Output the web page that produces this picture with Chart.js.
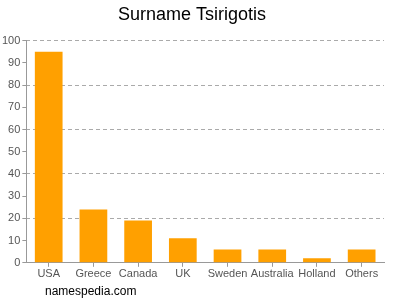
<!DOCTYPE html>
<html>
<head>
<meta charset="utf-8">
<script src="https://cdn.jsdelivr.net/npm/chart.js@4"></script>
<style>
  body { margin: 0; background: #fff; }
  #wrap { position: relative; width: 400px; height: 300px; }
  #footer { position: absolute; left: 45px; top: 284px; font: 12px "Liberation Sans", Arial, sans-serif; color: #000; }
</style>
</head>
<body>
<div id="wrap">
  <canvas id="chart" width="400" height="300"></canvas>
  <div id="footer">namespedia.com</div>
</div>
<script>
const countries = ["USA", "Greece", "Canada", "UK", "Sweden", "Australia", "Holland", "Others"];
const counts = [95, 24, 19, 11, 6, 6, 2, 6];
const yMax = 100;
const labelStep = 10;
const gridStep = 20;

var ctx = document.getElementById("chart").getContext("2d");
var myChart = new Chart(ctx, {
  type: "bar",
  data: {
    labels: countries,
    datasets: [
      {
        label: "Surname Tsirigotis",
        data: counts,
        backgroundColor: "#ffa000",
        borderWidth: 0,
        barPercentage: 0.62,
        categoryPercentage: 1,
      },
    ],
  },
  options: {
    responsive: false,
    animation: false,
    layout: { padding: { left: 0, right: 16, top: 0, bottom: 18 } },
    plugins: {
      legend: { display: false },
      tooltip: { enabled: false },
      title: {
        display: true,
        text: "Surname Tsirigotis",
        color: "#000",
        font: { family: "Liberation Sans", size: 18, weight: "normal" },
        padding: { top: 4, bottom: 15 },
      },
    },
    scales: {
      x: {
        grid: { drawOnChartArea: false, offset: false, tickLength: 4, tickColor: "#999" },
        border: { color: "#999" },
        ticks: {
          color: "#555",
          padding: 1,
          maxRotation: 0,
          autoSkip: false,
          font: { family: "Liberation Sans", size: 11 },
        },
      },
      // labels and tick marks every 10
      y: {
        min: 0,
        max: yMax,
        grid: { drawOnChartArea: false, tickColor: "#999", tickLength: 4 },
        border: { color: "#999" },
        ticks: { stepSize: labelStep, color: "#555", padding: 2, font: { family: "Liberation Sans", size: 11 } },
      },
      // dashed grid lines every 20, no labels
      y2: {
        position: "left",
        min: 0,
        max: yMax,
        grid: { color: "#aaa", drawTicks: false },
        border: { display: false, dash: [4, 3] },
        ticks: { stepSize: gridStep, display: false },
      },
    },
  },
});
</script>
</body>
</html>
